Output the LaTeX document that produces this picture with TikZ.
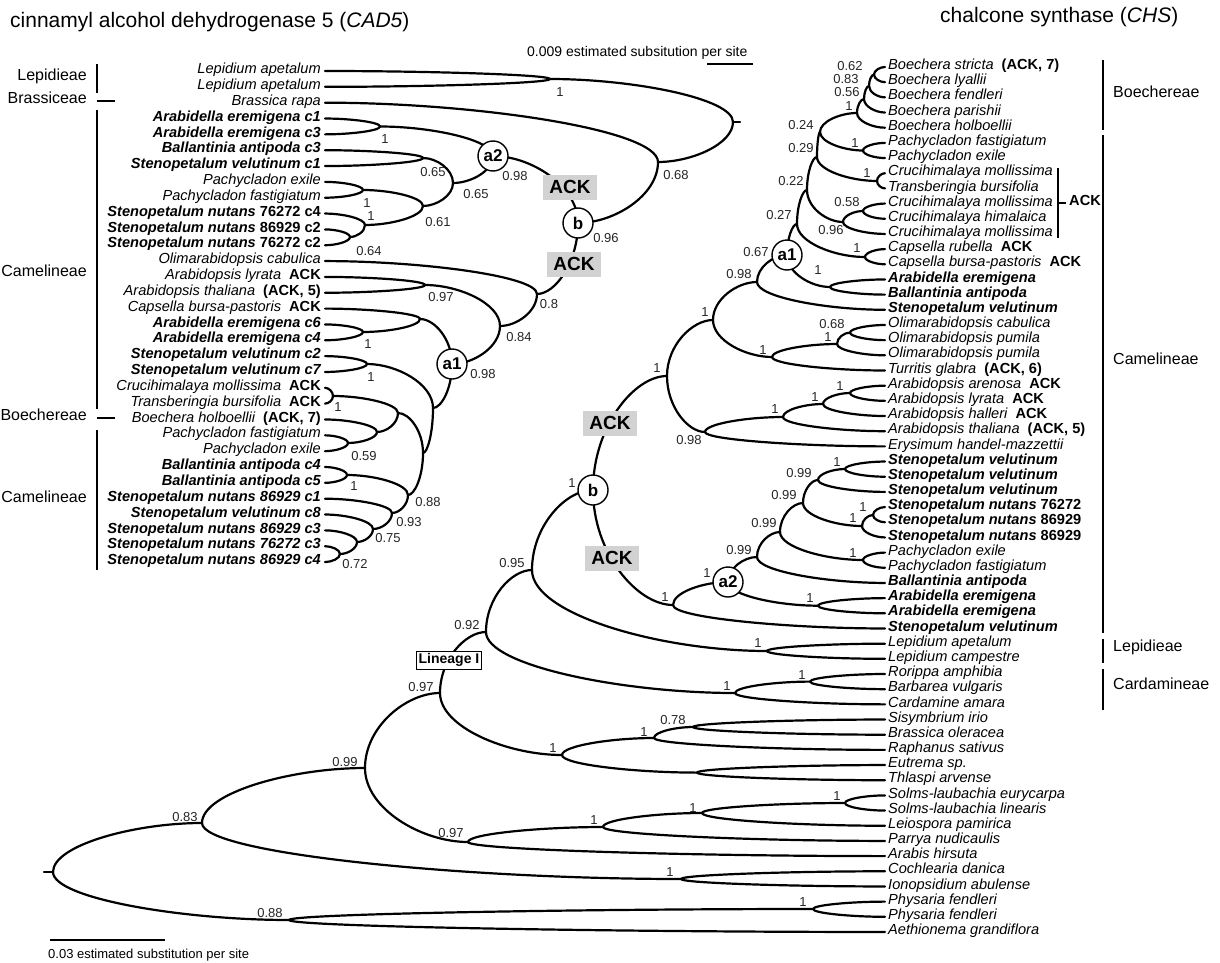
\documentclass[tikz,border=0pt]{standalone}
\usepackage{fontspec}
\setmainfont{Liberation Sans}
\usetikzlibrary{calc}
\newcommand{\tbranch}[2]{\draw[branch] let \p1=(#1), \p2=(#2) in (\p1) .. controls (\x1,{\y1+0.55*(\y2-\y1)}) and ({\x1+0.55*(\x2-\x1)},\y2) .. (\p2);}
\newcommand{\ACKtag}{\hspace{8pt}{\upshape\bfseries ACK}}
\newcommand{\ACKnum}[1]{\hspace{8pt}{\upshape\bfseries (ACK, #1)}}
\newcommand{\svl}[4]{\node[bs] (#1) at (#2,#3) {#4};}
\begin{document}
\begin{tikzpicture}[x=1pt,y=-1pt,
  branch/.style={line width=2.2pt, line cap=round},
  lf/.style={inner sep=0pt, font=\fontsize{14.6}{15}\selectfont\itshape},
  bs/.style={inner sep=0pt, font=\fontsize{13}{13}\selectfont, text=black!85},
  circ/.style={circle, draw, line width=1.4pt, fill=white, minimum size=30pt, inner sep=0pt, font=\fontsize{17}{17}\selectfont\bfseries},
  ackbox/.style={fill=gray!35, minimum width=54pt, minimum height=25pt, inner sep=0pt, font=\fontsize{19}{19}\selectfont\bfseries},
  grp/.style={inner sep=0pt, font=\fontsize{16}{16}\selectfont},
  bar/.style={line width=2.2pt}]
\useasboundingbox (0,0) rectangle (1220,963);
\fill[white] (0,0) rectangle (1220,963);

% ---------------- titles and scale bars
\node[anchor=west, inner sep=0pt, font=\fontsize{21}{21}\selectfont] (ttl1) at (10,22) {cinnamyl alcohol dehydrogenase 5 (\textit{CAD5})};
\node[anchor=west, inner sep=0pt, font=\fontsize{21}{21}\selectfont] (ttl2) at (940,17) {chalcone synthase (\textit{CHS})};
\node[anchor=west, inner sep=0pt, font=\fontsize{14}{14}\selectfont] (sc1) at (527,53) {0.009 estimated subsitution per site};
\coordinate (sb1a) at (707,64); \coordinate (sb1b) at (753,64);
\draw[bar] (sb1a) -- (sb1b);
\coordinate (sb2a) at (50,940); \coordinate (sb2b) at (165,940);
\draw[bar] (sb2a) -- (sb2b);
\node[anchor=west, inner sep=0pt, font=\fontsize{13}{13}\selectfont] (sc2) at (48,955) {0.03 estimated substitution per site};

% ---------------- leaf coordinates
\foreach \i in {0,...,31} {\coordinate (l\i) at (325,{71+15.84*\i});}
\foreach \j in {0,...,57} {\coordinate (r\j) at (885,{67+15.175*\j});}

% ---------------- left tree internal nodes
\coordinate (Llep) at (550,79);
\coordinate (Lroot) at (733,122);
\coordinate (Lroottip) at (740,122);
\coordinate (L68) at (658,162);
\coordinate (Lb) at (578,223);
\coordinate (La2) at (493,156);
\coordinate (Lar1) at (380,126.5);
\coordinate (LX) at (453,183);
\coordinate (Lbv) at (423,158);
\coordinate (LY) at (423,206);
\coordinate (Lpa1) at (363,190);
\coordinate (LZ) at (365,225);
\coordinate (LW) at (350,237);
\coordinate (L8) at (537,294);
\coordinate (L84) at (500,326);
\coordinate (L97) at (425,285);
\coordinate (La1) at (452,364);
\coordinate (Lcap) at (420,319);
\coordinate (Lar2) at (363,332);
\coordinate (LP) at (433,408);
\coordinate (LV) at (367,364);
\coordinate (LQ) at (423,453);
\coordinate (LR) at (398,413);
\coordinate (Lct) at (333,396);
\coordinate (LS) at (377,432);
\coordinate (Lpa2) at (348,443);
\coordinate (L88) at (408,495);
\coordinate (Lba) at (347,475);
\coordinate (L93) at (392,513);
\coordinate (L75) at (373,529);
\coordinate (LU) at (357,542);
\coordinate (L72) at (340,554);

% left branches
\tbranch{Llep}{l0} \tbranch{Llep}{l1}
\tbranch{Lroot}{Llep} \tbranch{Lroot}{L68}
\draw[branch] (Lroot) -- (Lroottip);
\tbranch{L68}{l2} \tbranch{L68}{Lb}
\tbranch{Lb}{La2} \tbranch{Lb}{L8}
\tbranch{La2}{Lar1} \tbranch{La2}{LX}
\tbranch{Lar1}{l3} \tbranch{Lar1}{l4}
\tbranch{LX}{Lbv} \tbranch{LX}{LY}
\tbranch{Lbv}{l5} \tbranch{Lbv}{l6}
\tbranch{LY}{Lpa1} \tbranch{LY}{LZ}
\tbranch{Lpa1}{l7} \tbranch{Lpa1}{l8}
\tbranch{LZ}{l9} \tbranch{LZ}{LW}
\tbranch{LW}{l10} \tbranch{LW}{l11}
\tbranch{L8}{l12} \tbranch{L8}{L84}
\tbranch{L84}{L97} \tbranch{L84}{La1}
\tbranch{L97}{l13} \tbranch{L97}{l14}
\tbranch{La1}{Lcap} \tbranch{La1}{LP}
\tbranch{Lcap}{l15} \tbranch{Lcap}{Lar2}
\tbranch{Lar2}{l16} \tbranch{Lar2}{l17}
\tbranch{LP}{LV} \tbranch{LP}{LQ}
\tbranch{LV}{l18} \tbranch{LV}{l19}
\tbranch{LQ}{LR} \tbranch{LQ}{L88}
\tbranch{LR}{Lct} \tbranch{LR}{LS}
\tbranch{Lct}{l20} \tbranch{Lct}{l21}
\tbranch{LS}{l22} \tbranch{LS}{Lpa2}
\tbranch{Lpa2}{l23} \tbranch{Lpa2}{l24}
\tbranch{L88}{Lba} \tbranch{L88}{L93}
\tbranch{Lba}{l25} \tbranch{Lba}{l26}
\tbranch{L93}{l27} \tbranch{L93}{L75}
\tbranch{L75}{l28} \tbranch{L75}{LU}
\tbranch{LU}{l29} \tbranch{LU}{L72}
\tbranch{L72}{l30} \tbranch{L72}{l31}

% left markers
\node[ackbox] (lack1) at (570,187) {ACK};
\node[ackbox] (lack2) at (574,264) {ACK};
\node[circ] (La2c) at (La2) {a2};
\node[circ] (Lbc) at (Lb) {b};
\node[circ] (La1c) at (La1) {a1};

% left support values
\svl{ls1}{560}{92}{1}
\svl{ls2}{676}{175}{0.68}
\svl{ls3}{606}{238}{0.96}
\svl{ls4}{515}{176}{0.98}
\svl{ls5}{385}{139}{1}
\svl{ls6}{433}{172}{0.65}
\svl{ls7}{476}{194}{0.65}
\svl{ls8}{438}{222}{0.61}
\svl{ls9}{367}{203}{1}
\svl{ls10}{371}{216}{1}
\svl{ls11}{369}{251}{0.64}
\svl{ls12}{549}{304}{0.8}
\svl{ls13}{519}{337}{0.84}
\svl{ls14}{441}{297}{0.97}
\svl{ls15}{483}{374}{0.98}
\svl{ls16}{368}{344}{1}
\svl{ls17}{371}{377}{1}
\svl{ls18}{338}{407}{1}
\svl{ls19}{364}{456}{0.59}
\svl{ls20}{354}{486}{1}
\svl{ls21}{428}{502}{0.88}
\svl{ls22}{409}{522}{0.93}
\svl{ls23}{388}{538}{0.75}
\svl{ls24}{355}{564}{0.72}

% left leaf labels
\begin{scope}[every node/.append style={lf, anchor=mid east, xshift=-4pt}]
\node (tl0) at (l0) {Lepidium apetalum};
\node (tl1) at (l1) {Lepidium apetalum};
\node (tl2) at (l2) {Brassica rapa};
\node (tl3) at (l3) {\bfseries Arabidella eremigena c1};
\node (tl4) at (l4) {\bfseries Arabidella eremigena c3};
\node (tl5) at (l5) {\bfseries Ballantinia antipoda c3};
\node (tl6) at (l6) {\bfseries Stenopetalum velutinum c1};
\node (tl7) at (l7) {Pachycladon exile};
\node (tl8) at (l8) {Pachycladon fastigiatum};
\node (tl9) at (l9) {\bfseries Stenopetalum nutans {\upshape 76272 c4}};
\node (tl10) at (l10) {\bfseries Stenopetalum nutans {\upshape 86929 c2}};
\node (tl11) at (l11) {\bfseries Stenopetalum nutans {\upshape 76272 c2}};
\node (tl12) at (l12) {Olimarabidopsis cabulica};
\node (tl13) at (l13) {Arabidopsis lyrata\ACKtag};
\node (tl14) at (l14) {Arabidopsis thaliana\ACKnum{5}};
\node (tl15) at (l15) {Capsella bursa-pastoris\ACKtag};
\node (tl16) at (l16) {\bfseries Arabidella eremigena c6};
\node (tl17) at (l17) {\bfseries Arabidella eremigena c4};
\node (tl18) at (l18) {\bfseries Stenopetalum velutinum c2};
\node (tl19) at (l19) {\bfseries Stenopetalum velutinum c7};
\node (tl20) at (l20) {Crucihimalaya mollissima\ACKtag};
\node (tl21) at (l21) {Transberingia bursifolia\ACKtag};
\node (tl22) at (l22) {Boechera holboellii\ACKnum{7}};
\node (tl23) at (l23) {Pachycladon fastigiatum};
\node (tl24) at (l24) {Pachycladon exile};
\node (tl25) at (l25) {\bfseries Ballantinia antipoda c4};
\node (tl26) at (l26) {\bfseries Ballantinia antipoda c5};
\node (tl27) at (l27) {\bfseries Stenopetalum nutans 86929 c1};
\node (tl28) at (l28) {\bfseries Stenopetalum velutinum c8};
\node (tl29) at (l29) {\bfseries Stenopetalum nutans 86929 c3};
\node (tl30) at (l30) {\bfseries Stenopetalum nutans 76272 c3};
\node (tl31) at (l31) {\bfseries Stenopetalum nutans 86929 c4};
\end{scope}

% left groups
\coordinate (gl1a) at (97,64); \coordinate (gl1b) at (97,93);
\coordinate (gl2a) at (97,101); \coordinate (gl2b) at (115,101);
\coordinate (gl3a) at (97,110); \coordinate (gl3b) at (97,409);
\coordinate (gl4a) at (97,418); \coordinate (gl4b) at (115,418);
\coordinate (gl5a) at (97,430); \coordinate (gl5b) at (97,570);
\draw[bar] (gl1a) -- (gl1b); \draw[bar] (gl2a) -- (gl2b); \draw[bar] (gl3a) -- (gl3b);
\draw[bar] (gl4a) -- (gl4b); \draw[bar] (gl5a) -- (gl5b);
\node[grp, anchor=mid east] (gn1) at (87,78) {Lepidieae};
\node[grp, anchor=mid east] (gn2) at (87,101) {Brassiceae};
\node[grp, anchor=mid east] (gn3) at (87,274) {Camelineae};
\node[grp, anchor=mid east] (gn4) at (87,418) {Boechereae};
\node[grp, anchor=mid east] (gn5) at (87,500) {Camelineae};

% ---------------- right tree internal nodes
\coordinate (Bo1) at (874,74.6);
\coordinate (Bo2) at (869,86);
\coordinate (Bo3) at (864,99);
\coordinate (Bo4) at (857,113);
\coordinate (RPa) at (863,150.5);
\coordinate (N24) at (820,132);
\coordinate (RCT) at (877,181);
\coordinate (N29) at (817,157);
\coordinate (N58) at (863,211);
\coordinate (N96) at (843,222);
\coordinate (N22) at (807,190);
\coordinate (RCa) at (865,257);
\coordinate (N27) at (797,224);
\coordinate (RAB) at (830,287);
\coordinate (a1r) at (787,255);
\coordinate (N98) at (757,282);
\coordinate (ROl68) at (850,332.6);
\coordinate (ROl1) at (837,344);
\coordinate (N1c) at (772,357);
\coordinate (N1b) at (713,320);
\coordinate (RAr1) at (850,393);
\coordinate (RAr2) at (823,404);
\coordinate (RAr3) at (783,417);
\coordinate (N98b) at (705,432);
\coordinate (N1a) at (667,376);
\coordinate (Sv1) at (845,469);
\coordinate (Sv2) at (818,480);
\coordinate (Nu1) at (873,515);
\coordinate (Nu2) at (862,526);
\coordinate (N99c) at (803,503);
\coordinate (Pa2) at (863,560);
\coordinate (N99b) at (780,532);
\coordinate (N99a) at (757,557);
\coordinate (RAr) at (818,605.7);
\coordinate (a2r) at (728,582);
\coordinate (N1h) at (673,605);
\coordinate (br) at (593,490);
\coordinate (RLep) at (767,651);
\coordinate (N95) at (532,570);
\coordinate (RRB) at (810,681.6);
\coordinate (RCd) at (735,693);
\coordinate (N92) at (486,632);
\coordinate (S78) at (693,727);
\coordinate (S1) at (654,738);
\coordinate (ET) at (697,772.6);
\coordinate (S1b) at (562,755);
\coordinate (N97a) at (440,693);
\coordinate (RSo) at (845,803);
\coordinate (RSL) at (702,813);
\coordinate (RPy) at (603,827);
\coordinate (N97b) at (468,842);
\coordinate (N99r) at (365,768);
\coordinate (RCo) at (681,879);
\coordinate (N83) at (202,823);
\coordinate (RPh) at (813,909);
\coordinate (N88r) at (289,920);
\coordinate (Rroot) at (53,872);
\coordinate (Rroottip) at (44,872);

% right branches
\tbranch{Bo1}{r0} \tbranch{Bo1}{r1}
\tbranch{Bo2}{Bo1} \tbranch{Bo2}{r2}
\tbranch{Bo3}{Bo2} \tbranch{Bo3}{r3}
\tbranch{Bo4}{Bo3} \tbranch{Bo4}{r4}
\tbranch{RPa}{r5} \tbranch{RPa}{r6}
\tbranch{N24}{Bo4} \tbranch{N24}{RPa}
\tbranch{RCT}{r7} \tbranch{RCT}{r8}
\tbranch{N29}{N24} \tbranch{N29}{RCT}
\tbranch{N58}{r9} \tbranch{N58}{r10}
\tbranch{N96}{N58} \tbranch{N96}{r11}
\tbranch{N22}{N29} \tbranch{N22}{N96}
\tbranch{RCa}{r12} \tbranch{RCa}{r13}
\tbranch{N27}{N22} \tbranch{N27}{RCa}
\tbranch{RAB}{r14} \tbranch{RAB}{r15}
\tbranch{a1r}{N27} \tbranch{a1r}{RAB}
\tbranch{N98}{a1r} \tbranch{N98}{r16}
\tbranch{ROl68}{r17} \tbranch{ROl68}{r18}
\tbranch{ROl1}{ROl68} \tbranch{ROl1}{r19}
\tbranch{N1c}{ROl1} \tbranch{N1c}{r20}
\tbranch{N1b}{N98} \tbranch{N1b}{N1c}
\tbranch{RAr1}{r21} \tbranch{RAr1}{r22}
\tbranch{RAr2}{RAr1} \tbranch{RAr2}{r23}
\tbranch{RAr3}{RAr2} \tbranch{RAr3}{r24}
\tbranch{N98b}{RAr3} \tbranch{N98b}{r25}
\tbranch{N1a}{N1b} \tbranch{N1a}{N98b}
\tbranch{Sv1}{r26} \tbranch{Sv1}{r27}
\tbranch{Sv2}{Sv1} \tbranch{Sv2}{r28}
\tbranch{Nu1}{r29} \tbranch{Nu1}{r30}
\tbranch{Nu2}{Nu1} \tbranch{Nu2}{r31}
\tbranch{N99c}{Sv2} \tbranch{N99c}{Nu2}
\tbranch{Pa2}{r32} \tbranch{Pa2}{r33}
\tbranch{N99b}{N99c} \tbranch{N99b}{Pa2}
\tbranch{N99a}{N99b} \tbranch{N99a}{r34}
\tbranch{RAr}{r35} \tbranch{RAr}{r36}
\tbranch{a2r}{N99a} \tbranch{a2r}{RAr}
\tbranch{N1h}{a2r} \tbranch{N1h}{r37}
\tbranch{br}{N1a} \tbranch{br}{N1h}
\tbranch{RLep}{r38} \tbranch{RLep}{r39}
\tbranch{N95}{br} \tbranch{N95}{RLep}
\tbranch{RRB}{r40} \tbranch{RRB}{r41}
\tbranch{RCd}{RRB} \tbranch{RCd}{r42}
\tbranch{N92}{N95} \tbranch{N92}{RCd}
\tbranch{S78}{r43} \tbranch{S78}{r44}
\tbranch{S1}{S78} \tbranch{S1}{r45}
\tbranch{ET}{r46} \tbranch{ET}{r47}
\tbranch{S1b}{S1} \tbranch{S1b}{ET}
\tbranch{N97a}{N92} \tbranch{N97a}{S1b}
\tbranch{RSo}{r48} \tbranch{RSo}{r49}
\tbranch{RSL}{RSo} \tbranch{RSL}{r50}
\tbranch{RPy}{RSL} \tbranch{RPy}{r51}
\tbranch{N97b}{RPy} \tbranch{N97b}{r52}
\tbranch{N99r}{N97a} \tbranch{N99r}{N97b}
\tbranch{RCo}{r53} \tbranch{RCo}{r54}
\tbranch{N83}{N99r} \tbranch{N83}{RCo}
\tbranch{RPh}{r55} \tbranch{RPh}{r56}
\tbranch{N88r}{RPh} \tbranch{N88r}{r57}
\tbranch{Rroot}{N83} \tbranch{Rroot}{N88r}
\draw[branch] (Rroot) -- (Rroottip);

% right markers
\node[ackbox] (rack1) at (610,423) {ACK};
\node[ackbox] (rack2) at (612,558) {ACK};
\node[circ] (a1rc) at (a1r) {a1};
\node[circ] (a2rc) at (a2r) {a2};
\node[circ] (brc) at (br) {b};
\node[draw, fill=white, line width=0.9pt, inner sep=2.5pt, font=\fontsize{14}{14}\selectfont\bfseries] (lin) at (449,660) {Lineage I};

% right support values
\svl{rs1}{850}{66}{0.62}
\svl{rs2}{846}{79}{0.83}
\svl{rs3}{847}{92}{0.56}
\svl{rs4}{849}{106}{1}
\svl{rs5}{801}{125}{0.24}
\svl{rs6}{855}{143}{1}
\svl{rs7}{801}{148}{0.29}
\svl{rs8}{867}{173}{1}
\svl{rs9}{791}{181}{0.22}
\svl{rs10}{847}{202}{0.58}
\svl{rs11}{779}{215}{0.27}
\svl{rs12}{831}{230}{0.96}
\svl{rs13}{857}{248}{1}
\svl{rs14}{756}{252}{0.67}
\svl{rs15}{818}{270}{1}
\svl{rs16}{739}{274}{0.98}
\svl{rs17}{832}{324}{0.68}
\svl{rs18}{828}{337}{1}
\svl{rs19}{763}{350}{1}
\svl{rs20}{705}{312}{1}
\svl{rs21}{840}{386}{1}
\svl{rs22}{815}{397}{1}
\svl{rs23}{775}{409}{1}
\svl{rs24}{689}{440}{0.98}
\svl{rs25}{657}{368}{1}
\svl{rs26}{837}{462}{1}
\svl{rs27}{799}{473}{0.99}
\svl{rs28}{784}{495}{0.99}
\svl{rs29}{863}{507}{1}
\svl{rs30}{853}{518}{1}
\svl{rs31}{764}{523}{0.99}
\svl{rs32}{853}{553}{1}
\svl{rs33}{739}{550}{0.99}
\svl{rs34}{810}{598}{1}
\svl{rs35}{707}{573}{1}
\svl{rs36}{665}{597}{1}
\svl{rs37}{572}{483}{1}
\svl{rs38}{512}{563}{0.95}
\svl{rs39}{758}{643}{1}
\svl{rs40}{802}{675}{1}
\svl{rs41}{727}{686}{1}
\svl{rs42}{467}{625}{0.92}
\svl{rs43}{673}{720}{0.78}
\svl{rs44}{644}{732}{1}
\svl{rs45}{553}{748}{1}
\svl{rs46}{421}{687}{0.97}
\svl{rs47}{837}{796}{1}
\svl{rs48}{693}{808}{1}
\svl{rs49}{594}{820}{1}
\svl{rs50}{451}{833}{0.97}
\svl{rs51}{345}{762}{0.99}
\svl{rs52}{670}{872}{1}
\svl{rs53}{185}{817}{0.83}
\svl{rs54}{803}{902}{1}
\svl{rs55}{270}{913}{0.88}

% right leaf labels
\begin{scope}[every node/.append style={lf, anchor=mid west, xshift=3pt}]
\node (tr0) at (r0) {Boechera stricta\ACKnum{7}};
\node (tr1) at (r1) {Boechera lyallii};
\node (tr2) at (r2) {Boechera fendleri};
\node (tr3) at (r3) {Boechera parishii};
\node (tr4) at (r4) {Boechera holboellii};
\node (tr5) at (r5) {Pachycladon fastigiatum};
\node (tr6) at (r6) {Pachycladon exile};
\node (tr7) at (r7) {Crucihimalaya mollissima};
\node (tr8) at (r8) {Transberingia bursifolia};
\node (tr9) at (r9) {Crucihimalaya mollissima};
\node (tr10) at (r10) {Crucihimalaya himalaica};
\node (tr11) at (r11) {Crucihimalaya mollissima};
\node (tr12) at (r12) {Capsella rubella\ACKtag};
\node (tr13) at (r13) {Capsella bursa-pastoris\ACKtag};
\node (tr14) at (r14) {\bfseries Arabidella eremigena};
\node (tr15) at (r15) {\bfseries Ballantinia antipoda};
\node (tr16) at (r16) {\bfseries Stenopetalum velutinum};
\node (tr17) at (r17) {Olimarabidopsis cabulica};
\node (tr18) at (r18) {Olimarabidopsis pumila};
\node (tr19) at (r19) {Olimarabidopsis pumila};
\node (tr20) at (r20) {Turritis glabra\ACKnum{6}};
\node (tr21) at (r21) {Arabidopsis arenosa\ACKtag};
\node (tr22) at (r22) {Arabidopsis lyrata\ACKtag};
\node (tr23) at (r23) {Arabidopsis halleri\ACKtag};
\node (tr24) at (r24) {Arabidopsis thaliana\ACKnum{5}};
\node (tr25) at (r25) {Erysimum handel-mazzettii};
\node (tr26) at (r26) {\bfseries Stenopetalum velutinum};
\node (tr27) at (r27) {\bfseries Stenopetalum velutinum};
\node (tr28) at (r28) {\bfseries Stenopetalum velutinum};
\node (tr29) at (r29) {\bfseries Stenopetalum nutans {\upshape 76272}};
\node (tr30) at (r30) {\bfseries Stenopetalum nutans {\upshape 86929}};
\node (tr31) at (r31) {\bfseries Stenopetalum nutans {\upshape 86929}};
\node (tr32) at (r32) {Pachycladon exile};
\node (tr33) at (r33) {Pachycladon fastigiatum};
\node (tr34) at (r34) {\bfseries Ballantinia antipoda};
\node (tr35) at (r35) {\bfseries Arabidella eremigena};
\node (tr36) at (r36) {\bfseries Arabidella eremigena};
\node (tr37) at (r37) {\bfseries Stenopetalum velutinum};
\node (tr38) at (r38) {Lepidium apetalum};
\node (tr39) at (r39) {Lepidium campestre};
\node (tr40) at (r40) {Rorippa amphibia};
\node (tr41) at (r41) {Barbarea vulgaris};
\node (tr42) at (r42) {Cardamine amara};
\node (tr43) at (r43) {Sisymbrium irio};
\node (tr44) at (r44) {Brassica oleracea};
\node (tr45) at (r45) {Raphanus sativus};
\node (tr46) at (r46) {Eutrema sp.};
\node (tr47) at (r47) {Thlaspi arvense};
\node (tr48) at (r48) {Solms-laubachia eurycarpa};
\node (tr49) at (r49) {Solms-laubachia linearis};
\node (tr50) at (r50) {Leiospora pamirica};
\node (tr51) at (r51) {Parrya nudicaulis};
\node (tr52) at (r52) {Arabis hirsuta};
\node (tr53) at (r53) {Cochlearia danica};
\node (tr54) at (r54) {Ionopsidium abulense};
\node (tr55) at (r55) {Physaria fendleri};
\node (tr56) at (r56) {Physaria fendleri};
\node (tr57) at (r57) {Aethionema grandiflora};
\end{scope}

% ACK bracket (Crucihimalaya)
\coordinate (ckt) at (1058,168); \coordinate (ckb) at (1058,238);
\coordinate (ckm) at (1058,203); \coordinate (ckr) at (1066,203);
\draw[line width=1.8pt] (ckt) -- (ckb);
\draw[line width=1.8pt] (ckm) -- (ckr);
\node[inner sep=0pt, anchor=mid west, font=\fontsize{14.6}{15}\selectfont\bfseries] (ckl) at (1069,203) {ACK};

% right groups
\coordinate (gr1a) at (1103,60); \coordinate (gr1b) at (1103,130);
\coordinate (gr2a) at (1103,135); \coordinate (gr2b) at (1103,633);
\coordinate (gr3a) at (1103,639); \coordinate (gr3b) at (1103,663);
\coordinate (gr4a) at (1103,669); \coordinate (gr4b) at (1103,710);
\draw[bar] (gr1a) -- (gr1b); \draw[bar] (gr2a) -- (gr2b);
\draw[bar] (gr3a) -- (gr3b); \draw[bar] (gr4a) -- (gr4b);
\node[grp, anchor=mid west] (gm1) at (1113,95) {Boechereae};
\node[grp, anchor=mid west] (gm2) at (1113,362) {Camelineae};
\node[grp, anchor=mid west] (gm3) at (1113,649) {Lepidieae};
\node[grp, anchor=mid west] (gm4) at (1113,687) {Cardamineae};
\end{tikzpicture}
\end{document}
